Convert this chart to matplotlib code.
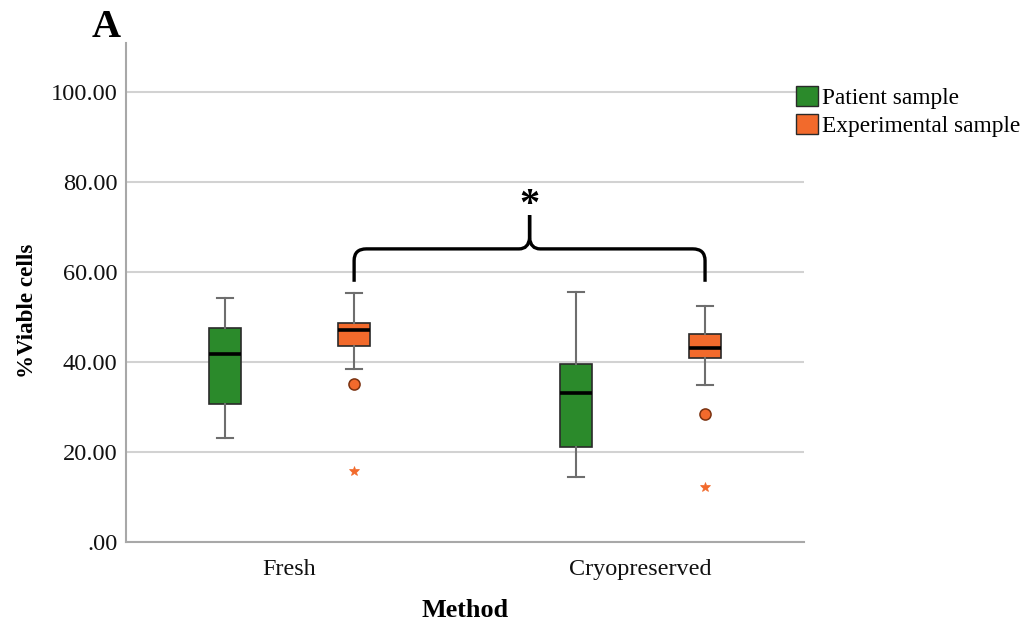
import numpy as np
import matplotlib
matplotlib.use('Agg')
import matplotlib.pyplot as plt
from matplotlib.patches import Patch, PathPatch
from matplotlib.path import Path

# values
categories = ['Fresh', 'Cryopreserved']
groups = ['Patient sample', 'Experimental sample']

patient_q1 = [30.8, 21.2]
patient_med = [41.8, 33.2]
patient_q3 = [47.5, 39.6]
patient_lo = [23.1, 14.6]
patient_hi = [54.1, 55.6]

exp_q1 = [43.5, 40.8]
exp_med = [47.1, 43.2]
exp_q3 = [48.7, 46.3]
exp_lo = [38.5, 35.0]
exp_hi = [55.4, 52.4]
exp_outliers = [35.2, 28.5]
exp_extremes = [15.8, 12.3]

yticks = [0, 20, 40, 60, 80, 100]
ytick_labels = ['.00', '20.00', '40.00', '60.00', '80.00', '100.00']

# significance bracket between the two experimental boxes
brace_low, brace_level, brace_peak = 57.8, 65.1, 72.6

GREEN = '#2b8a2b'
ORANGE = '#f26a2c'
SERIF = 'Liberation Serif'
plt.rcParams['font.family'] = [SERIF, 'DejaVu Serif']

fig = plt.figure(figsize=(10.22, 6.27), dpi=100)
ax = fig.add_axes([0.1233, 0.135, 0.6634, 0.7966])

offset = 0.184
width = 0.091
x = np.arange(len(categories))

def make_stats(q1, med, q3, lo, hi):
    return [dict(q1=a, med=b, q3=c, whislo=d, whishi=e, fliers=[])
            for a, b, c, d, e in zip(q1, med, q3, lo, hi)]

series = [
    (make_stats(patient_q1, patient_med, patient_q3, patient_lo, patient_hi), x - offset, GREEN),
    (make_stats(exp_q1, exp_med, exp_q3, exp_lo, exp_hi), x + offset, ORANGE),
]
for stats, pos, color in series:
    ax.bxp(stats, positions=pos, widths=width, patch_artist=True, showfliers=False,
           boxprops=dict(facecolor=color, edgecolor='#2a2a2a', linewidth=1.2),
           medianprops=dict(color='black', linewidth=2.6),
           whiskerprops=dict(color='#6e6e6e', linewidth=1.5),
           capprops=dict(color='#6e6e6e', linewidth=1.5),
           capwidths=width / 2, zorder=3)

# outliers (circles) and extremes (stars)
ax.plot(x + offset, exp_outliers, 'o', ms=8, mfc=ORANGE, mec='#7a3210', mew=1.1, zorder=4)
ax.plot(x + offset, exp_extremes, '*', ms=7, mfc=ORANGE, mec=ORANGE, mew=0.5, zorder=4)

ax.set_xlim(-0.466, 1.466)
ax.set_ylim(0, 110.8)
ax.set_xticks(x)
ax.set_xticklabels(categories, fontsize=17.4)
ax.set_yticks(yticks)
ax.set_yticklabels(ytick_labels, fontsize=17.6)
ax.tick_params(axis='both', length=0, colors='#111111')
ax.tick_params(axis='x', pad=12)
ax.tick_params(axis='y', pad=6)
ax.yaxis.grid(True, color='#d2d2d2', linewidth=1.5, zorder=0)
ax.set_axisbelow(True)
for side in ['top', 'right']:
    ax.spines[side].set_visible(False)
for side in ['left', 'bottom']:
    ax.spines[side].set_color('#a8a8a8')
    ax.spines[side].set_linewidth(1.5)

# curly bracket
x1, x2 = x[0] + offset, x[1] + offset
xm = (x1 + x2) / 2
cdx, cdy = 0.035, 2.6
mdx, mdy = 0.03, 2.4
verts = [
    (x1, brace_low), (x1, brace_level - cdy),
    (x1, brace_level), (x1 + cdx, brace_level),
    (xm - mdx, brace_level),
    (xm - 0.003, brace_level), (xm, brace_level + mdy),
    (xm, brace_peak),
    (xm, brace_level + mdy),
    (xm + 0.003, brace_level), (xm + mdx, brace_level),
    (x2 - cdx, brace_level),
    (x2, brace_level), (x2, brace_level - cdy),
    (x2, brace_low),
]
codes = [Path.MOVETO, Path.LINETO,
         Path.CURVE3, Path.CURVE3,
         Path.LINETO,
         Path.CURVE3, Path.CURVE3,
         Path.LINETO,
         Path.LINETO,
         Path.CURVE3, Path.CURVE3,
         Path.LINETO,
         Path.CURVE3, Path.CURVE3,
         Path.LINETO]
ax.add_patch(PathPatch(Path(verts, codes), fill=False, lw=2.4, color='black',
                       joinstyle='miter', capstyle='butt', zorder=5))
ax.text(xm, brace_peak - 2.0, '*', ha='center', va='bottom', fontsize=29,
        fontweight='bold', zorder=5)

ax.set_xlabel('Method', fontsize=18.8, fontweight='bold', labelpad=14)
fig.text(0.027, 1 - 311 / 627, '%Viable cells', rotation=90, ha='center', va='center',
         fontsize=16.6, fontweight='bold')
fig.text(106 / 1022, 1 - 37 / 627, 'A', ha='center', va='baseline', fontsize=29,
         fontweight='bold')

handles = [Patch(facecolor=GREEN, edgecolor='#2a2a2a', linewidth=1.0),
           Patch(facecolor=ORANGE, edgecolor='#2a2a2a', linewidth=1.0)]
fig.legend(handles, groups, loc='upper left', bbox_to_anchor=(796 / 1022, 1 - 86 / 627),
           frameon=False, fontsize=16.8, handlelength=0.95, handleheight=0.95,
           handletextpad=0.15, labelspacing=0.2, borderpad=0, borderaxespad=0)

fig.savefig('out.png', dpi=100)
